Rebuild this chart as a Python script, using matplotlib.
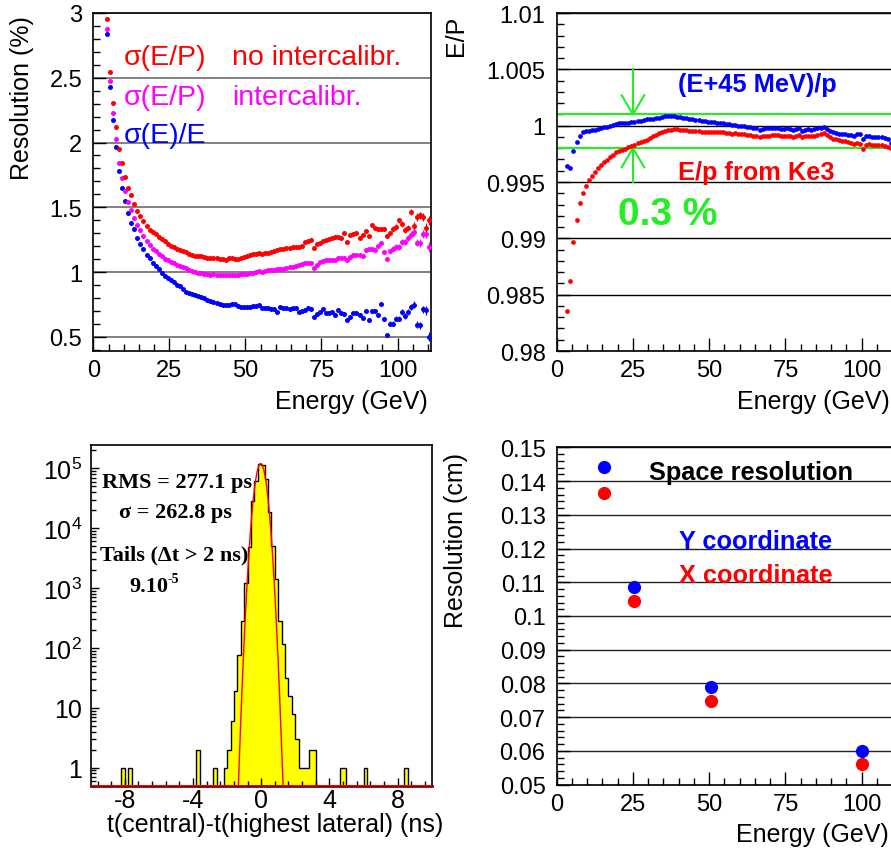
import numpy as np
import matplotlib
matplotlib.use("Agg")
import matplotlib.pyplot as plt
from matplotlib.ticker import MultipleLocator, FixedLocator, LogLocator, NullFormatter, FuncFormatter

plt.rcParams["font.family"] = ["Liberation Sans", "DejaVu Sans"]
plt.rcParams["mathtext.fontset"] = "custom"
plt.rcParams["mathtext.rm"] = "Liberation Sans"
plt.rcParams["mathtext.it"] = "Liberation Sans:italic"
plt.rcParams["mathtext.bf"] = "Liberation Sans:bold"
plt.rcParams["axes.unicode_minus"] = False

RED = "#ff0000"
MAGENTA = "#ff00ff"
BLUE = "#0000ff"
GREEN = "#22ee22"
YELLOW = "#ffff00"

# ---------------- energy resolution vs energy ----------------
res_energy = [
    4.5, 5.5, 6.5, 7.5, 8.5, 9.5, 10.5, 11.5, 12.5, 13.5,
    14.5, 15.5, 16.5, 17.5, 18.5, 19.5, 20.5, 21.5, 22.5, 23.5,
    24.5, 25.5, 26.5, 27.5, 28.5, 29.5, 30.5, 31.5, 32.5, 33.5,
    34.5, 35.5, 36.5, 37.5, 38.5, 39.5, 40.5, 41.5, 42.5, 43.5,
    44.5, 45.5, 46.5, 47.5, 48.5, 49.5, 50.5, 51.5, 52.5, 53.5,
    54.5, 55.5, 56.5, 57.5, 58.5, 59.5, 60.5, 61.5, 62.5, 63.5,
    64.5, 65.5, 66.5, 67.5, 68.5, 69.5, 70.5, 71.5, 72.5, 73.5,
    74.5, 75.5, 76.5, 77.5, 78.5, 79.5, 80.5, 81.5, 82.5, 83.5,
    84.5, 85.5, 86.5, 87.5, 88.5, 89.5, 90.5, 91.5, 92.5, 93.5,
    94.5, 95.5, 96.5, 97.5, 98.5, 99.5, 100.5, 101.5, 102.5, 103.5,
    104.5, 105.5, 106.5, 107.5, 108.5, 109.5, 110.5]

sigma_ep_nocal = [
    2.95, 2.545, 2.306, 2.12, 1.947, 1.84, 1.73, 1.65, 1.597, 1.528,
    1.468, 1.433, 1.39, 1.355, 1.327, 1.309, 1.29, 1.27, 1.255, 1.238,
    1.219, 1.20, 1.19, 1.175, 1.168, 1.16, 1.152, 1.138, 1.13, 1.124,
    1.125, 1.124, 1.116, 1.108, 1.108, 1.11, 1.108, 1.103, 1.10, 1.095,
    1.111, 1.108, 1.10, 1.104, 1.111, 1.118, 1.122, 1.128, 1.136, 1.14,
    1.149, 1.141, 1.147, 1.15, 1.151, 1.159, 1.168, 1.175, 1.18, 1.185,
    1.188, 1.19, 1.193, 1.196, 1.20, 1.232, 1.237, 1.244, 1.188, 1.219,
    1.226, 1.237, 1.247, 1.252, 1.263, 1.268, 1.273, 1.263, 1.301, 1.232,
    1.283, 1.291, 1.298, 1.263, 1.288, 1.314, 1.278, 1.365, 1.34, 1.329,
    1.333, 1.329, 1.278, 1.301, 1.335, 1.348, 1.399, 1.373, 1.322, 1.34,
    1.464, 1.355, 1.425, 1.437, 1.425, 1.34, 1.399]

sigma_ep_cal = [
    2.88, 2.476, 2.229, 2.025, 1.845, 1.726, 1.628, 1.538, 1.476, 1.417,
    1.36, 1.321, 1.28, 1.24, 1.205, 1.18, 1.16, 1.138, 1.12, 1.104,
    1.09, 1.075, 1.066, 1.056, 1.048, 1.038, 1.028, 1.016, 1.008, 1.0,
    0.995, 0.99, 0.985, 0.982, 0.98, 0.982, 0.978, 0.98, 0.976, 0.975,
    0.978, 0.98, 0.977, 0.98, 0.983, 0.985, 0.987, 0.99, 0.996, 1.0,
    1.005, 1.003, 1.01, 1.012, 1.014, 1.018, 1.02, 1.023, 1.026, 1.031,
    1.036, 1.042, 1.048, 1.055, 1.06, 1.066, 1.072, 1.072, 1.031, 1.056,
    1.077, 1.085, 1.09, 1.09, 1.095, 1.09, 1.108, 1.108, 1.108, 1.09,
    1.116, 1.134, 1.134, 1.134, 1.124, 1.167, 1.175, 1.18, 1.172, 1.2,
    1.226, 1.155, 1.103, 1.159, 1.18, 1.193, 1.193, 1.232, 1.232, 1.263,
    1.288, 1.309, 1.226, 1.226, 1.296, 1.296, 1.193]

sigma_e = [
    2.836, 2.427, 2.172, 1.963, 1.777, 1.651, 1.551, 1.458, 1.379, 1.329,
    1.263, 1.22, 1.178, 1.135, 1.105, 1.07, 1.043, 1.02, 0.99, 0.968,
    0.952, 0.935, 0.92, 0.902, 0.89, 0.866, 0.848, 0.835, 0.827, 0.82,
    0.813, 0.807, 0.797, 0.787, 0.776, 0.768, 0.762, 0.755, 0.748, 0.742,
    0.747, 0.75, 0.753, 0.74, 0.729, 0.729, 0.73, 0.732, 0.735, 0.738,
    0.742, 0.725, 0.722, 0.722, 0.718, 0.716, 0.691, 0.729, 0.722, 0.719,
    0.716, 0.72, 0.722, 0.691, 0.70, 0.709, 0.72, 0.716, 0.652, 0.678,
    0.691, 0.716, 0.685, 0.685, 0.691, 0.665, 0.704, 0.685, 0.678, 0.626,
    0.652, 0.685, 0.685, 0.67, 0.645, 0.696, 0.631, 0.696, 0.696, 0.67,
    0.755, 0.634, 0.51, 0.60, 0.60, 0.639, 0.639, 0.691, 0.66, 0.691,
    0.729, 0.747, 0.593, 0.587, 0.711, 0.704, 0.50]

# statistical errors of the last 16 energy points (95.5 - 110.5 GeV)
high_energy_err = [0.015, 0.015, 0.018, 0.018, 0.02, 0.02, 0.022, 0.022,
                   0.025, 0.025, 0.028, 0.028, 0.03, 0.03, 0.035, 0.035]

# ---------------- E/p linearity ----------------
lin_energy = [
    3.5, 4.5, 5.5, 6.5, 7.5, 8.5, 9.5, 10.5, 11.5, 12.5,
    13.5, 14.5, 15.5, 16.5, 17.5, 18.5, 19.5, 20.5, 21.5, 22.5,
    23.5, 24.5, 25.5, 26.5, 27.5, 28.5, 29.5, 30.5, 31.5, 32.5,
    33.5, 34.5, 35.5, 36.5, 37.5, 38.5, 39.5, 40.5, 41.5, 42.5,
    43.5, 44.5, 45.5, 46.5, 47.5, 48.5, 49.5, 50.5, 51.5, 52.5,
    53.5, 54.5, 55.5, 56.5, 57.5, 58.5, 59.5, 60.5, 61.5, 62.5,
    63.5, 64.5, 65.5, 66.5, 67.5, 68.5, 69.5, 70.5, 71.5, 72.5,
    73.5, 74.5, 75.5, 76.5, 77.5, 78.5, 79.5, 80.5, 81.5, 82.5,
    83.5, 84.5, 85.5, 86.5, 87.5, 88.5, 89.5, 90.5, 91.5, 92.5,
    93.5, 94.5, 95.5, 96.5, 97.5, 98.5, 99.5, 100.5, 101.5, 102.5,
    103.5, 104.5, 105.5, 106.5, 107.5, 108.5, 109.5]

ep_ke3 = [
    0.98358, 0.98624, 0.98965, 0.99165, 0.99314, 0.99402, 0.99467, 0.99518, 0.99556, 0.99591,
    0.99622, 0.99651, 0.99675, 0.99698, 0.99719, 0.9974, 0.99762, 0.99775, 0.99786, 0.99797,
    0.99808, 0.9982, 0.9983, 0.99842, 0.99852, 0.99862, 0.99873, 0.99888, 0.99905, 0.9992,
    0.99935, 0.99948, 0.99955, 0.9996, 0.99965, 0.99968, 0.99968, 0.99965, 0.99962, 0.9996,
    0.99956, 0.99955, 0.99952, 0.9995, 0.99948, 0.99946, 0.99948, 0.99946, 0.99948, 0.99946,
    0.99944, 0.9994, 0.99935, 0.99932, 0.9993, 0.99932, 0.99928, 0.99926, 0.99925, 0.9992,
    0.99915, 0.99912, 0.99905, 0.99896, 0.99905, 0.99912, 0.9991, 0.99915, 0.99918, 0.99916,
    0.99912, 0.99908, 0.99912, 0.99905, 0.999, 0.9991, 0.99915, 0.99895, 0.99905, 0.99908,
    0.99905, 0.99912, 0.99918, 0.99928, 0.99935, 0.99915, 0.99895, 0.99885, 0.99878, 0.99872,
    0.99868, 0.99862, 0.99855, 0.9985, 0.99838, 0.99845, 0.9984, 0.99795, 0.99832, 0.99838,
    0.99828, 0.9983, 0.99825, 0.99828, 0.99822, 0.99812, 0.99805]

ep_plus45 = [
    0.99645, 0.99622, 0.99778, 0.99852, 0.99911, 0.9994, 0.9995, 0.99955, 0.99958, 0.99962,
    0.9997, 0.99978, 0.99985, 0.9999, 1.0, 1.00008, 1.00015, 1.0002, 1.00022, 1.00025,
    1.00028, 1.00032, 1.00035, 1.0004, 1.00045, 1.0005, 1.00055, 1.00059, 1.00063, 1.00068,
    1.00072, 1.00078, 1.00082, 1.00085, 1.00086, 1.00084, 1.0008, 1.00075, 1.0007, 1.00065,
    1.0006, 1.00056, 1.0005, 1.00046, 1.00042, 1.00039, 1.00036, 1.00035, 1.0003, 1.00026,
    1.00024, 1.0002, 1.00015, 1.00012, 1.00008, 1.00004, 1.0, 0.99996, 0.99994, 0.9999,
    0.99986, 0.99982, 0.99975, 0.99964, 0.99972, 0.99978, 0.99976, 0.99978, 0.99978, 0.99976,
    0.99972, 0.9997, 0.99975, 0.99966, 0.99962, 0.99972, 0.99976, 0.99955, 0.99965, 0.99968,
    0.99964, 0.9997, 0.99975, 0.99982, 0.99986, 0.9997, 0.9995, 0.99942, 0.99935, 0.9993,
    0.99928, 0.99926, 0.9992, 0.99916, 0.99905, 0.99926, 0.99924, 0.99885, 0.99912, 0.99905,
    0.99898, 0.999, 0.99895, 0.99898, 0.9989, 0.9988, 0.99845]

band_upper = 1.001
band_lower = 0.998

# ---------------- timing difference histogram ----------------
dt_edges = np.linspace(-10.0, 10.0, 101)
dt_counts = [
    0, 0, 0, 0, 0, 0, 0, 0, 0, 1,
    0, 1, 0, 0, 0, 0, 0, 0, 0, 0,
    0, 0, 0, 0, 0, 0, 0, 0, 0, 0,
    0, 2, 0, 0, 0, 0, 1, 0, 0, 1,
    2, 6, 19, 76, 285, 1210, 4940, 28500, 61500, 120000,
    113000, 65600, 18300, 5050, 1410, 285, 117, 32, 16, 8,
    3, 1, 1, 1, 2, 2, 0, 0, 0, 0,
    0, 0, 0, 1, 1, 0, 0, 0, 0, 0,
    1, 0, 0, 0, 0, 0, 0, 0, 0, 0,
    0, 0, 1, 0, 0, 0, 0, 0, 0, 0]
fit_amplitude = 1.2e5
fit_mean = -0.03
fit_sigma = 0.2628   # ns

# ---------------- space resolution ----------------
pos_energy = [15.5, 25.4, 50.5, 100.2]
res_y = [0.1441, 0.1085, 0.0790, 0.0601]
res_x = [0.1365, 0.1044, 0.0749, 0.0561]

# =====================================================================
W, H = 891, 853
fig = plt.figure(figsize=(W / 100, H / 100), dpi=100)


def rect(left, top, right, bottom):
    return [left / W, 1 - bottom / H, (right - left) / W, (bottom - top) / H]


def root_style(ax, major_len=9.5, minor_len=5.0, labelsize=17):
    for s in ax.spines.values():
        s.set_linewidth(1.2)
    ax.tick_params(which="both", direction="in", top=False, right=False,
                   labelsize=labelsize, width=1.0)
    ax.tick_params(which="major", length=major_len)
    ax.tick_params(which="minor", length=minor_len)
    ax.tick_params(axis="y", pad=8)
    ax.tick_params(axis="x", pad=6)


gfmt = FuncFormatter(lambda v, p: f"{v:g}")

# ---- top left: resolution ----
ax1 = fig.add_axes(rect(93.3, 14, 431, 352))
root_style(ax1)
ax1.set_xlim(0, 111)
ax1.set_ylim(0.39, 3.0)
ax1.yaxis.set_major_locator(FixedLocator([0.5, 1.0, 1.5, 2.0, 2.5, 3.0]))
ax1.yaxis.set_minor_locator(MultipleLocator(0.1))
ax1.yaxis.set_major_formatter(gfmt)
ax1.xaxis.set_major_locator(MultipleLocator(25))
ax1.xaxis.set_minor_locator(MultipleLocator(5))
ax1.yaxis.grid(True, which="major", color="#777777", lw=1.3)
ax1.set_axisbelow(True)

tail_err = np.concatenate([np.zeros(len(res_energy) - len(high_energy_err)), high_energy_err])
for series, col in ((sigma_e, BLUE), (sigma_ep_cal, MAGENTA), (sigma_ep_nocal, RED)):
    ax1.errorbar(res_energy, series, yerr=tail_err, fmt="o", ms=3.6, color=col,
                 mec="none", elinewidth=0.9, capsize=0, zorder=3)

legend_font = dict(fontsize=20.5, va="center", ha="left")
ax1.text(10.1, 2.662, "σ(E/P)", color=RED, **legend_font)
ax1.text(45.5, 2.662, "no intercalibr.", color=RED, **legend_font)
ax1.text(10.1, 2.352, "σ(E/P)", color=MAGENTA, **legend_font)
ax1.text(45.5, 2.352, "intercalibr.", color=MAGENTA, **legend_font)
ax1.text(10.1, 2.056, "σ(E)/E", color=BLUE, **legend_font)

fig.text(22 / W, 1 - 16 / H, "Resolution (%)", rotation=90, ha="center", va="top", fontsize=18)
fig.text(428 / W, 1 - 402 / H, "Energy (GeV)", ha="right", va="center", fontsize=18)

# ---- top right: E/p linearity ----
ax2 = fig.add_axes(rect(556.7, 14, 556.7 + 111 * 3.05, 352))
root_style(ax2)
ax2.set_xlim(0, 111)
ax2.set_ylim(0.98, 1.01)
ax2.yaxis.set_major_locator(FixedLocator([0.98, 0.985, 0.99, 0.995, 1.0, 1.005, 1.01]))
ax2.yaxis.set_minor_locator(MultipleLocator(0.001))
ax2.yaxis.set_major_formatter(gfmt)
ax2.xaxis.set_major_locator(MultipleLocator(25))
ax2.xaxis.set_minor_locator(MultipleLocator(5))
ax2.yaxis.grid(True, which="major", color="black", lw=1.0)
ax2.set_axisbelow(True)

ax2.plot(lin_energy, ep_plus45, "o", ms=3.4, color=BLUE, mec="none", zorder=3)
ax2.plot(lin_energy, ep_ke3, "o", ms=3.4, color=RED, mec="none", zorder=3)

ax2.axhline(band_upper, color=GREEN, lw=1.5, zorder=2)
ax2.axhline(band_lower, color=GREEN, lw=1.5, zorder=2)
arrow_x, head_w, head_h = 25.0, 3.7, 0.0017
ax2.plot([arrow_x, arrow_x], [1.005, band_upper], color=GREEN, lw=1.5)
ax2.plot([arrow_x - head_w, arrow_x, arrow_x + head_w],
         [band_upper + head_h, band_upper, band_upper + head_h], color=GREEN, lw=1.5)
ax2.plot([arrow_x, arrow_x], [0.995, band_lower], color=GREEN, lw=1.5)
ax2.plot([arrow_x - head_w, arrow_x, arrow_x + head_w],
         [band_lower - head_h, band_lower, band_lower - head_h], color=GREEN, lw=1.5)

ax2.text(39.9, 1.0037, "(E+45 MeV)/p", color=BLUE, fontsize=18.3, fontweight="bold",
         ha="left", va="center")
ax2.text(39.9, 0.99586, "E/p from Ke3", color=RED, fontsize=18.3, fontweight="bold",
         ha="left", va="center")
ax2.text(20.2, 0.99216, "0.3 %", color=GREEN, fontsize=28, fontweight="bold",
         ha="left", va="center")

fig.text(456 / W, 1 - 16 / H, "E/P", rotation=90, ha="center", va="top", fontsize=18)
fig.text(890 / W, 1 - 402 / H, "Energy (GeV)", ha="right", va="center", fontsize=18)

# ---- bottom left: timing histogram ----
ax3 = fig.add_axes(rect(90.7, 446, 431.7, 786.7))
root_style(ax3, major_len=6, minor_len=3.5)
ax3.set_yscale("log")
ax3.set_xlim(-10, 10)
ax3.set_ylim(0.5, 2.45e5)
ax3.xaxis.set_major_locator(FixedLocator([-8, -4, 0, 4, 8]))
ax3.xaxis.set_minor_locator(MultipleLocator(0.8))
ax3.yaxis.set_major_locator(LogLocator(base=10, numticks=10))
ax3.yaxis.set_minor_locator(LogLocator(base=10, subs=np.arange(2, 10), numticks=20))
ax3.yaxis.set_minor_formatter(NullFormatter())


def log_label(v, p):
    n = int(round(np.log10(v)))
    if n == 0:
        return "1"
    if n == 1:
        return "10"
    return r"$\mathregular{10^{%d}}$" % n


ax3.yaxis.set_major_formatter(FuncFormatter(log_label))
ax3.tick_params(axis="y", pad=6, labelsize=18)
ax3.tick_params(axis="x", labelsize=18, pad=2)

counts = np.asarray(dt_counts, dtype=float)
ax3.stairs(np.where(counts > 0, counts, 1e-3), dt_edges, baseline=1e-3, fill=True,
           color=YELLOW, zorder=1)
ax3.stairs(np.where(counts > 0, counts, 1e-3), dt_edges, baseline=1e-3, fill=False,
           color="black", lw=1.0, zorder=2)
t_fit = np.linspace(-10, 10, 4001)
f_fit = fit_amplitude * np.exp(-0.5 * ((t_fit - fit_mean) / fit_sigma) ** 2)
ax3.plot(t_fit, np.maximum(f_fit, 0.5), color=RED, lw=1.0, zorder=3)
ax3.spines["bottom"].set_color("#8b0000")
ax3.spines["bottom"].set_linewidth(2.0)

serif = dict(family=["Liberation Serif", "DejaVu Serif"], fontweight="bold", fontsize=16,
             transform=ax3.transAxes, ha="left", va="center")
ax3.text(0.032, 0.892, "RMS = 277.1 ps", **serif)
ax3.text(0.083, 0.804, "σ = 262.8 ps", **serif)
ax3.text(0.027, 0.680, "Tails (Δt > 2 ns)", **serif)
ax3.text(0.112, 0.587, "9.10", **serif)
ax3.text(0.226, 0.607, "-5", family=["Liberation Serif", "DejaVu Serif"], fontweight="bold",
         fontsize=10, transform=ax3.transAxes, ha="left", va="center")

fig.text(443 / W, 1 - 825 / H, "t(central)-t(highest lateral) (ns)", ha="right", va="center",
         fontsize=18)

# ---- bottom right: space resolution ----
ax4 = fig.add_axes(rect(556.7, 448.3, 556.7 + 111 * 3.05, 785.7))
root_style(ax4)
ax4.set_xlim(0, 111)
ax4.set_ylim(0.05, 0.15)
ax4.yaxis.set_major_locator(FixedLocator([0.05, 0.06, 0.07, 0.08, 0.09, 0.10,
                                          0.11, 0.12, 0.13, 0.14, 0.15]))
ax4.yaxis.set_minor_locator(MultipleLocator(0.002))
ax4.yaxis.set_major_formatter(gfmt)
ax4.xaxis.set_major_locator(MultipleLocator(25))
ax4.xaxis.set_minor_locator(MultipleLocator(5))
ax4.yaxis.grid(True, which="major", color="#222222", lw=1.0)
ax4.set_axisbelow(True)

ax4.plot(pos_energy, res_y, "o", ms=9.5, color=BLUE, mec="none", zorder=3)
ax4.plot(pos_energy, res_x, "o", ms=9.5, color=RED, mec="none", zorder=3)

ax4.text(30.3, 0.1426, "Space resolution", color="black", fontsize=18.3, fontweight="bold",
         ha="left", va="center")
ax4.text(40.2, 0.1223, "Y coordinate", color=BLUE, fontsize=18.3, fontweight="bold",
         ha="left", va="center")
ax4.text(40.2, 0.1122, "X coordinate", color=RED, fontsize=18.3, fontweight="bold",
         ha="left", va="center")

fig.text(456 / W, 1 - 453 / H, "Resolution (cm)", rotation=90, ha="center", va="top",
         fontsize=18)
fig.text(889 / W, 1 - 835 / H, "Energy (GeV)", ha="right", va="center", fontsize=18)

fig.savefig("out.png", dpi=100, facecolor="white")
